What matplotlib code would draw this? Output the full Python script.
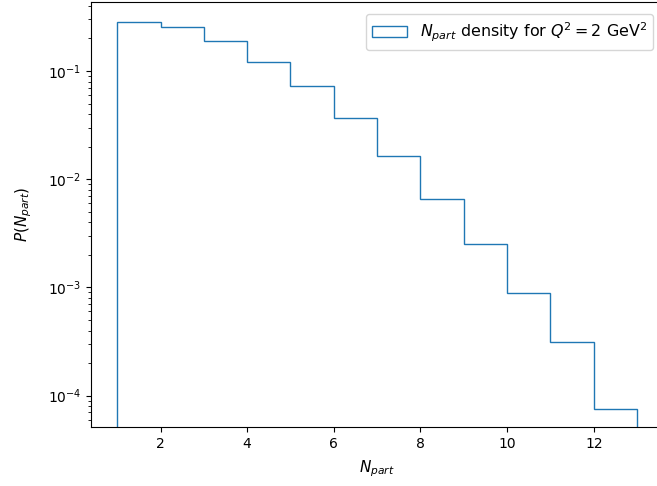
import numpy as np
import matplotlib
matplotlib.use("Agg")
import matplotlib.pyplot as plt

# Bin edges for N_part and the density
bin_edges = [1, 2, 3, 4, 5, 6, 7, 8, 9, 10, 11, 12, 13]
density = [0.285, 0.255, 0.189, 0.122, 0.0727, 0.0366, 0.0163,
           0.00656, 0.00251, 0.000882, 0.000313, 0.0000752]

fig = plt.figure(figsize=(6.57, 4.86), dpi=100)
ax = fig.add_axes([0.1388, 0.1208, 0.8705, 0.8757])

ax.hist(bin_edges[:-1], bins=bin_edges, weights=density, histtype="step",
        log=True, label=r"$N_{part}$ density for $Q^2=2$ GeV$^2$")

ax.set_xlim(0.4, 13.6)
ax.set_ylim(10 ** -4.292, 10 ** -0.3595)
ax.set_xlabel(r"$N_{part}$", fontsize=11, labelpad=5)
ax.set_ylabel(r"$P(N_{part})$", fontsize=11, labelpad=10)
ax.legend(loc="upper right", bbox_to_anchor=(0.9939, 0.9712),
          bbox_transform=fig.transFigure, borderaxespad=0, fontsize=11.4,
          handlelength=2.2)

fig.savefig("out.png", dpi=100)
